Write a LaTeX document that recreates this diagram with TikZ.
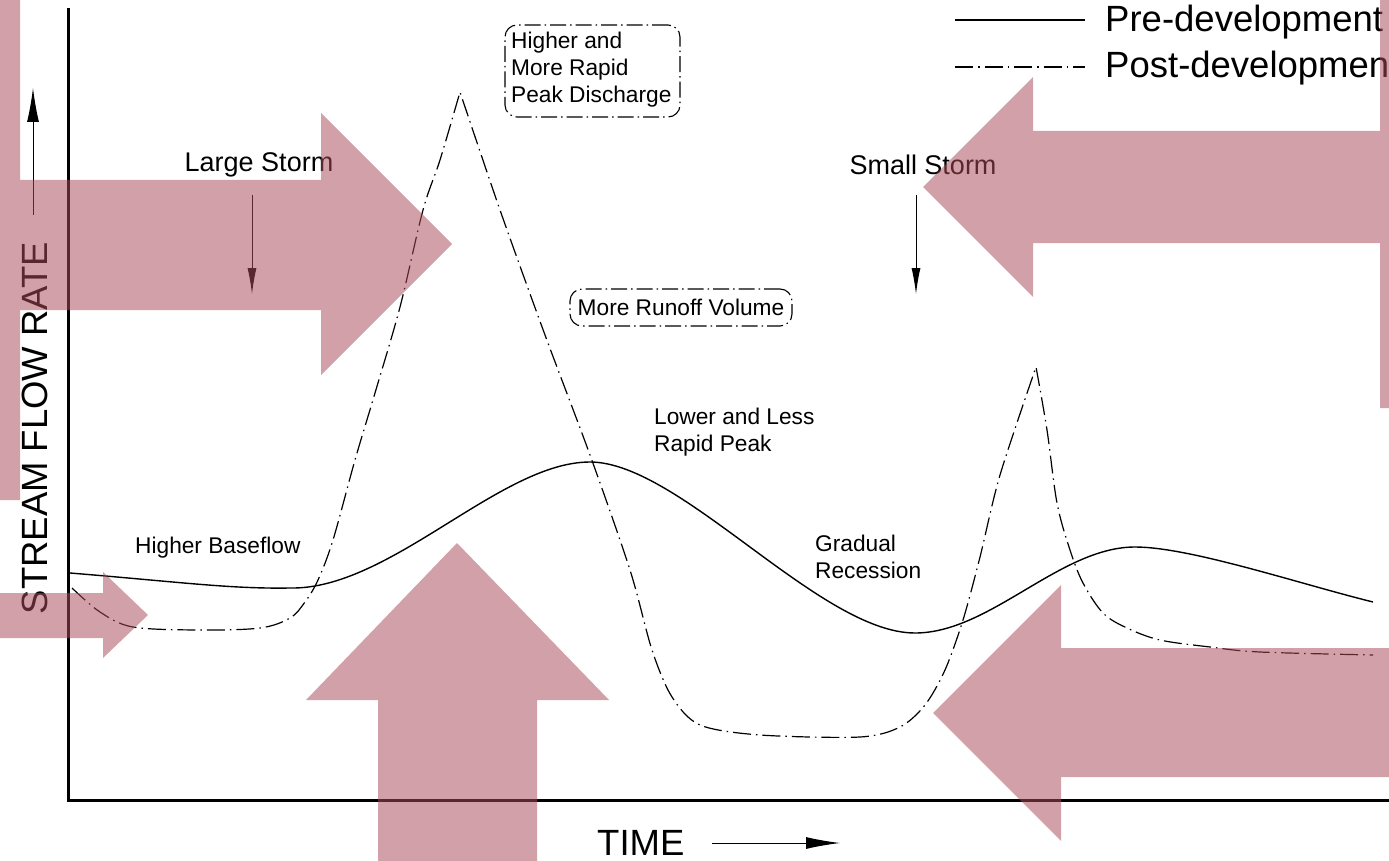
\documentclass[tikz,border=0pt]{standalone}
\usepackage{fontspec}
\setmainfont{Liberation Sans}
\usetikzlibrary{arrows.meta}
\definecolor{pinkarrow}{RGB}{170,75,90}
\begin{document}
\begin{tikzpicture}[x=1pt,y=-1pt,
  lbl/.style={font=\fontsize{22.7}{27}\selectfont, inner sep=0pt},
  storm/.style={font=\fontsize{27}{32}\selectfont, inner sep=0pt},
  big/.style={font=\fontsize{36.5}{40}\selectfont, inner sep=0pt},
  axisline/.style={line width=3pt},
  pre/.style={line width=1.4pt},
  post/.style={line width=1.2pt, dash pattern=on 18pt off 5pt on 1.5pt off 5pt},
  callout/.style={draw, line width=1.1pt, rounded corners=12pt, dash pattern=on 16pt off 4pt on 1.5pt off 4pt},
  thinarrow/.style={line width=1pt, -{Latex[length=26pt,width=9pt]}},
  pinkshape/.style={fill=pinkarrow, fill opacity=0.53, draw=none},
]
\useasboundingbox (0,0) rectangle (1389,861);
\clip (0,0) rectangle (1389,861);

% axes
\coordinate (ytop) at (68,8);
\coordinate (O) at (68,800);
\coordinate (xend) at (1392,800);
\draw[axisline] (ytop) -- (O) -- (xend);

% axis labels
\node[big, rotate=90] (ylab) at (35,428) {STREAM FLOW RATE};
\coordinate (yarrS) at (33,215);
\coordinate (yarrE) at (33,88);
\draw[line width=1pt, -{Latex[length=34pt,width=12pt]}] (yarrS) -- (yarrE);
\node[big, anchor=west] (xlab) at (597,843) {TIME};
\coordinate (xarrS) at (712,843);
\coordinate (xarrE) at (840,843);
\draw[line width=1pt, -{Latex[length=34pt,width=12pt]}] (xarrS) -- (xarrE);

% legend
\coordinate (l1a) at (955,20);
\coordinate (l1b) at (1085,20);
\draw[pre] (l1a) -- (l1b);
\node[big, anchor=west] (pretext) at (1105,22) {Pre-development};
\coordinate (l2a) at (955,67);
\coordinate (l2b) at (1085,67);
\draw[post] (l2a) -- (l2b);
\node[big, anchor=west] (posttext) at (1105,68) {Post-developmen};

% storms
\node[storm] (large) at (259,165) {Large Storm};
\coordinate (largeS) at (252,195);
\coordinate (largeE) at (252,294);
\draw[thinarrow] (largeS) -- (largeE);
\node[storm] (small) at (923,165) {Small Storm};
\coordinate (smallS) at (916,195);
\coordinate (smallE) at (916,294);
\draw[thinarrow] (smallS) -- (smallE);

% callouts
\node[callout, minimum width=175pt, minimum height=92pt, inner sep=0pt] (peakbox) at (592.5,71) {};
\node[lbl, anchor=west, align=left] (peaktext) at (511,70) {Higher and\\More Rapid\\Peak Discharge};
\node[callout, minimum width=222pt, minimum height=37pt, inner sep=0pt] (volbox) at (681,307.5) {};
\node[lbl] (voltext) at (681,307) {More Runoff Volume};

% other labels
\node[lbl, anchor=west, align=left] (lower) at (654,432) {Lower and Less\\Rapid Peak};
\node[lbl, anchor=west] (base) at (135,548) {Higher Baseflow};
\node[lbl, anchor=west, align=left] (grad) at (815,557) {Gradual\\Recession};

% pre-development hydrograph
\draw[pre] (70,573) .. controls (180,582) and (230,589) .. (290,588)
  .. controls (390,590) and (500,462) .. (590,462)
  .. controls (680,462) and (820,633) .. (915,633)
  .. controls (990,633) and (1060,547) .. (1135,547)
  .. controls (1190,547) and (1300,584) .. (1373,602);

% post-development hydrograph
\draw[post] plot[smooth, tension=0.55] coordinates {(72,588) (100,612) (133,627) (200,630) (260,628) (290,618) (305,602) (318,580) (333,540) (355,460) (375,393) (400,307) (423,210) (440,160) (460,92)}
  -- plot[smooth, tension=0.5] coordinates {(460,92) (500,210) (545,335) (590,455) (630,570) (652,650) (672,697) (700,725) (760,735) (860,737) (900,727) (925,705) (945,670) (963,620) (980,557) (1000,475) (1036,367)}
  -- plot[smooth, tension=0.55] coordinates {(1036,367) (1047,430) (1057,503) (1070,550) (1083,583) (1103,613) (1127,628) (1160,640) (1210,647) (1260,652) (1373,655)};

% overlaid pink arrows
\fill[pinkshape] (0,0) -- (20,0) -- (20,180) -- (321,180) -- (321,113) -- (452,244) -- (321,375) -- (321,310) -- (20,310) -- (20,500) -- (0,500) -- cycle;
\fill[pinkshape] (0,593) -- (103,593) -- (103,572) -- (148,615) -- (103,658) -- (103,638) -- (0,638) -- cycle;
\fill[pinkshape] (378,861) -- (378,700) -- (306,700) -- (457,543) -- (609,700) -- (537,700) -- (537,861) -- cycle;
\fill[pinkshape] (1389,648) -- (1061,648) -- (1061,585) -- (933,713) -- (1061,841) -- (1061,777) -- (1389,777) -- cycle;
\fill[pinkshape] (1389,0) -- (1389,408) -- (1380,408) -- (1380,243) -- (1033,243) -- (1033,297) -- (923,187) -- (1033,77) -- (1033,131) -- (1380,131) -- (1380,0) -- cycle;
\end{tikzpicture}
\end{document}
